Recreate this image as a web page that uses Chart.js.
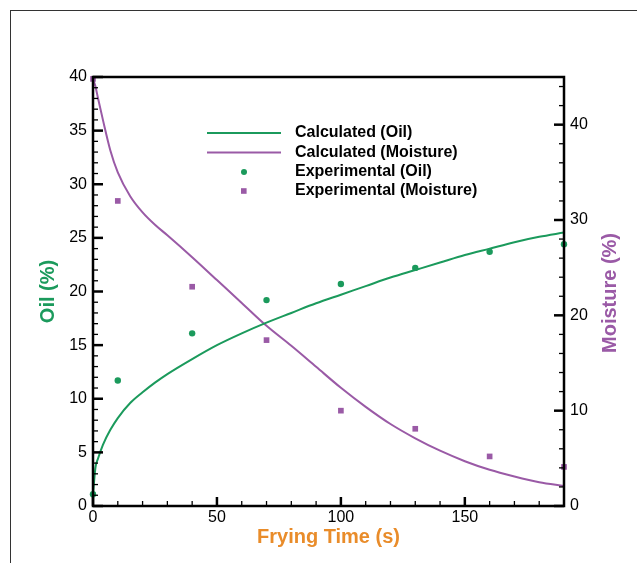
<!DOCTYPE html>
<html lang="en">
<head>
    <meta charset="UTF-8">
    <title>Oil and Moisture vs Frying Time</title>
    <script src="https://cdn.jsdelivr.net/npm/chart.js"></script>
    <style>
        body { margin: 0; background: #fff; }
        #wrap { position: relative; width: 637px; height: 563px; }
        #frame { position: absolute; left: 10px; top: 10px; right: 0; bottom: 0;
                 border-top: 1px solid #333; border-left: 1px solid #333; pointer-events: none; }
    </style>
</head>
<body>
    <div id="wrap">
        <canvas id="fryChart" width="637" height="563"></canvas>
        <div id="frame"></div>
    </div>

    <script>
        // calculated curves
        const calcTime = [0, 1, 2, 4, 7, 10, 15, 20, 25, 30, 40, 50, 60, 70, 80, 90, 100, 110, 120, 130, 140, 150, 160, 170, 180, 190];
        const calcOil = [1.1, 3.6, 4.4, 5.7, 7.1, 8.2, 9.6, 10.6, 11.5, 12.3, 13.7, 15.0, 16.1, 17.1, 18.0, 18.9, 19.7, 20.5, 21.3, 22.0, 22.7, 23.4, 24.0, 24.6, 25.1, 25.5];
        const calcMoisture = [44.8, 44.0, 42.8, 40.5, 37.3, 35.0, 32.5, 30.8, 29.5, 28.4, 26.1, 23.7, 21.3, 18.9, 16.8, 14.6, 12.4, 10.4, 8.6, 7.1, 5.8, 4.7, 3.8, 3.1, 2.5, 2.1];

        // experimental points
        const expTime = [0, 10, 40, 70, 100, 130, 160, 190];
        const expOil = [1.1, 11.7, 16.1, 19.2, 20.7, 22.2, 23.7, 24.4];
        const expMoisture = [44.8, 32.0, 23.0, 17.4, 10.0, 8.1, 5.2, 4.1];

        // tick labels
        const timeTicks = [0, 50, 100, 150];
        const oilTicks = [0, 5, 10, 15, 20, 25, 30, 35, 40];
        const moistureTicks = [0, 10, 20, 30, 40];

        const green = '#1b9a5c';
        const purple = '#9a5aa6';
        const orange = '#e98c2a';
        const fontFamily = "'Liberation Sans', Arial, sans-serif";

        const toPoints = (xs, ys) => xs.map((x, i) => ({ x: x, y: ys[i] }));
        const setTicks = arr => scale => { scale.ticks = arr.map(v => ({ value: v })); };

        // box around the plot + inward tick marks, drawn over the data like the original
        const axisDecor = {
            id: 'axisDecor',
            afterDatasetsDraw(chart) {
                const { ctx, chartArea: a, scales } = chart;
                ctx.save();
                ctx.strokeStyle = '#000';
                const line = (x1, y1, x2, y2, w) => {
                    ctx.lineWidth = w;
                    ctx.beginPath();
                    ctx.moveTo(x1, y1);
                    ctx.lineTo(x2, y2);
                    ctx.stroke();
                };
                for (let v = 0; v <= 190; v += 10) {
                    const x = scales.x.getPixelForValue(v);
                    const major = v % 50 === 0;
                    line(x, a.bottom, x, a.bottom - (major ? 9 : 5), major ? 2.5 : 1.3);
                }
                for (let v = 0; v <= 40; v += 1) {
                    const y = scales.y.getPixelForValue(v);
                    const major = v % 5 === 0;
                    line(a.left, y, a.left + (major ? 10 : 5), y, major ? 2.5 : 1.3);
                }
                for (let v = 0; v <= 44; v += 2) {
                    const y = scales.y2.getPixelForValue(v);
                    const major = v % 10 === 0;
                    line(a.right, y, a.right - (major ? 10 : 5), y, major ? 2.5 : 1.3);
                }
                ctx.lineWidth = 2.5;
                ctx.strokeRect(a.left, a.top, a.right - a.left, a.bottom - a.top);

                // right axis title reads bottom to top
                ctx.fillStyle = purple;
                ctx.font = 'bold 20px ' + fontFamily;
                ctx.textAlign = 'center';
                ctx.textBaseline = 'middle';
                ctx.translate(610, 293);
                ctx.rotate(-Math.PI / 2);
                ctx.fillText('Moisture (%)', 0, 0);
                ctx.restore();
            }
        };

        // legend placed inside the plot
        const innerLegend = {
            id: 'innerLegend',
            afterDraw(chart) {
                const { ctx } = chart;
                const rows = [133, 152.5, 172, 191];
                ctx.save();
                ctx.font = 'bold 16px ' + fontFamily;
                ctx.textBaseline = 'middle';
                ctx.fillStyle = '#000';
                chart.data.datasets.forEach((ds, i) => {
                    const y = rows[i];
                    if (ds.showLine) {
                        ctx.strokeStyle = ds.borderColor;
                        ctx.lineWidth = 2;
                        ctx.beginPath();
                        ctx.moveTo(207, y);
                        ctx.lineTo(281, y);
                        ctx.stroke();
                    } else {
                        ctx.fillStyle = ds.backgroundColor;
                        if (ds.pointStyle === 'rect') {
                            ctx.fillRect(241, y - 2.8, 5.6, 5.6);
                        } else {
                            ctx.beginPath();
                            ctx.arc(244, y, 3, 0, Math.PI * 2);
                            ctx.fill();
                        }
                    }
                    ctx.fillStyle = '#000';
                    ctx.fillText(ds.label, 295, y);
                });
                ctx.restore();
            }
        };

        const ctx = document.getElementById('fryChart').getContext('2d');
        new Chart(ctx, {
            type: 'scatter',
            data: {
                datasets: [
                    {
                        label: 'Calculated (Oil)',
                        data: toPoints(calcTime, calcOil),
                        yAxisID: 'y',
                        showLine: true,
                        borderColor: green,
                        borderWidth: 2,
                        pointRadius: 0,
                        cubicInterpolationMode: 'monotone'
                    },
                    {
                        label: 'Calculated (Moisture)',
                        data: toPoints(calcTime, calcMoisture),
                        yAxisID: 'y2',
                        showLine: true,
                        borderColor: purple,
                        borderWidth: 2,
                        pointRadius: 0,
                        cubicInterpolationMode: 'monotone'
                    },
                    {
                        label: 'Experimental (Oil)',
                        data: toPoints(expTime, expOil),
                        yAxisID: 'y',
                        showLine: false,
                        pointStyle: 'circle',
                        pointRadius: 3.2,
                        borderWidth: 0,
                        backgroundColor: green,
                        clip: false
                    },
                    {
                        label: 'Experimental (Moisture)',
                        data: toPoints(expTime, expMoisture),
                        yAxisID: 'y2',
                        showLine: false,
                        pointStyle: 'rect',
                        pointRadius: 4,
                        borderWidth: 0,
                        backgroundColor: purple,
                        clip: false
                    }
                ]
            },
            options: {
                responsive: false,
                animation: false,
                devicePixelRatio: 1,
                layout: { padding: { top: 77, left: 0, right: 0, bottom: 0 } },
                plugins: {
                    legend: { display: false },
                    tooltip: { enabled: false }
                },
                scales: {
                    x: {
                        type: 'linear',
                        min: 0,
                        max: 190,
                        afterBuildTicks: setTicks(timeTicks),
                        afterFit: s => { s.height = 57; },
                        grid: { display: false, drawTicks: false },
                        border: { display: false },
                        ticks: { padding: 2, color: '#000', font: { family: fontFamily, size: 16 } },
                        title: {
                            display: true,
                            text: 'Frying Time (s)',
                            color: orange,
                            font: { family: fontFamily, size: 20, weight: 'bold' },
                            padding: { top: 0, bottom: 14 }
                        }
                    },
                    y: {
                        position: 'left',
                        min: 0,
                        max: 40,
                        afterBuildTicks: setTicks(oilTicks),
                        afterFit: s => { s.width = 93; },
                        grid: { display: false, drawTicks: false },
                        border: { display: false },
                        ticks: { padding: 6, color: '#000', font: { family: fontFamily, size: 16 } },
                        title: {
                            display: true,
                            text: 'Oil (%)',
                            color: green,
                            font: { family: fontFamily, size: 20, weight: 'bold' },
                            padding: { top: 36, bottom: 0 }
                        }
                    },
                    y2: {
                        position: 'right',
                        min: 0,
                        max: 45,
                        afterBuildTicks: setTicks(moistureTicks),
                        afterFit: s => { s.width = 73; },
                        grid: { display: false, drawTicks: false },
                        border: { display: false },
                        ticks: { padding: 6, color: '#000', font: { family: fontFamily, size: 16 } }
                    }
                }
            },
            plugins: [axisDecor, innerLegend]
        });
    </script>
</body>
</html>
